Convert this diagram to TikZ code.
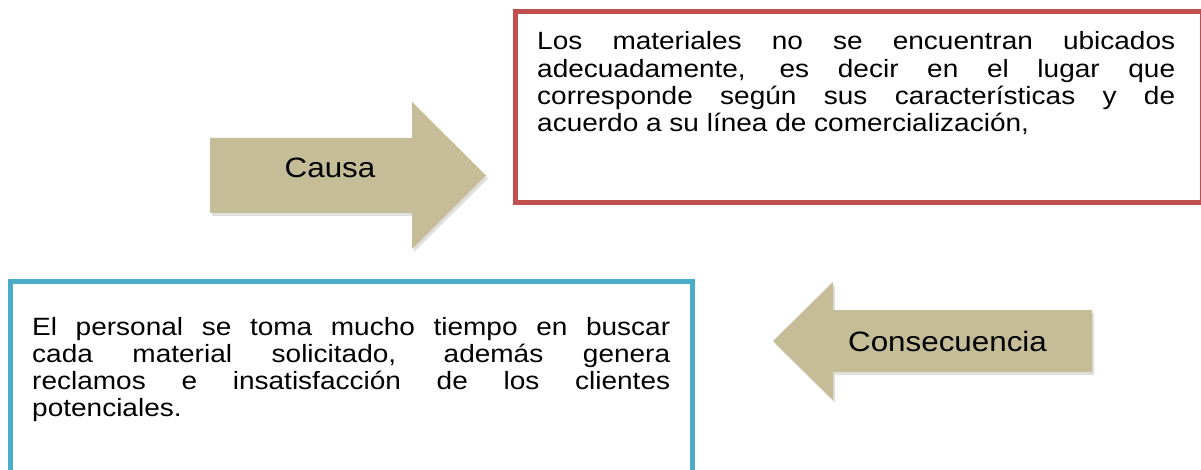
\documentclass[tikz,border=0pt]{standalone}
\usepackage{fontspec}
\setmainfont[FakeStretch=1.12]{Liberation Sans}
\usepackage{tikz}
\usetikzlibrary{positioning,shadows}
\definecolor{rojocaja}{HTML}{C0504D}
\definecolor{azulcaja}{HTML}{4BACC6}
\definecolor{tostado}{HTML}{C4BD97}
\tolerance=10000
\hbadness=10000
\tikzstyle{caja} = [rectangle, line width=5pt, fill=white, inner sep=0pt]
\tikzstyle{texto} = [inner sep=0pt, text width=638pt, align=justify, anchor=base west, font=\fontsize{25}{27.3}\selectfont]
\tikzstyle{flecha} = [fill=tostado, drop shadow={shadow xshift=2pt, shadow yshift=-3pt, opacity=0.25}]

\begin{document}
\begin{tikzpicture}[x=1pt, y=-1pt, R/.style={font=\fontsize{28}{30}\selectfont, anchor=base, inner sep=0pt}]
    \fill[white] (0,0) rectangle (1201,470);
    \clip (0,0) rectangle (1201,470);
    % cajas
    \node (problema) [caja, draw=rojocaja, minimum width=687pt, minimum height=191.5pt] at (858.5,107.25) {};
    \node (efecto) [caja, draw=azulcaja, minimum width=682.5pt, minimum height=207pt] at (351.25,384.5) {};
    \node (problematexto) [texto] at (537,50) {\noindent Los materiales no se encuentran ubicados\linebreak adecuadamente, es decir en el lugar que\linebreak corresponde según sus características y de\linebreak acuerdo a su línea de comercialización,};
    \node (efectotexto) [texto] at (32,335) {\noindent El personal se toma mucho tiempo en buscar\linebreak cada material solicitado, además genera\linebreak reclamos e insatisfacción de los clientes\linebreak potenciales.};
    % flechas
    \fill[flecha] (210,138) -- (412,138) -- (412,102) -- (486,175.5) -- (412,249) -- (412,213) -- (210,213) -- cycle;
    \node (causa) [R] at (330,178) {Causa};
    \fill[flecha] (1092,310) -- (833,310) -- (833,282) -- (773,341) -- (833,400) -- (833,372) -- (1092,372) -- cycle;
    \node (consecuencia) [R] at (947.5,351) {Consecuencia};
\end{tikzpicture}
\end{document}
